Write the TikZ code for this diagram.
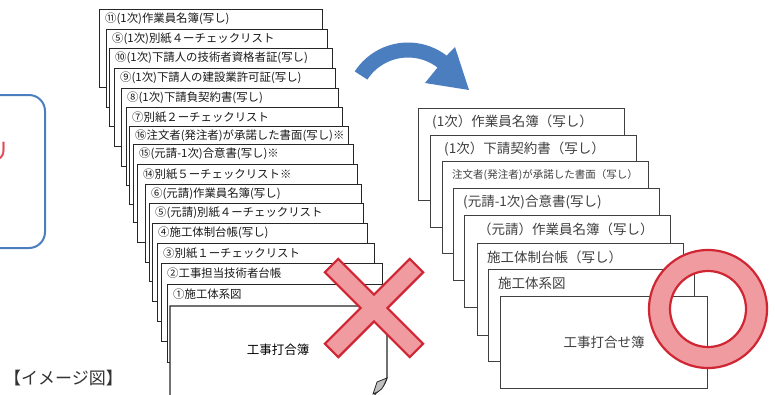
\documentclass[tikz,border=0pt]{standalone}
\usepackage{fontspec}
\setmainfont{Noto Sans CJK JP}
\usepackage{tikz}
\definecolor{crossred}{RGB}{208,38,52}
\definecolor{crosspink}{RGB}{240,155,160}
\definecolor{arrowblue}{RGB}{74,126,191}
\definecolor{textgray}{RGB}{64,64,64}
\definecolor{notered}{RGB}{226,72,82}
\tikzset{
  sheetL/.style={draw=black!85, fill=white, line width=1.2pt, inner sep=0pt},
  sheetR/.style={draw=textgray, fill=white, line width=1.2pt, inner sep=0pt},
  labelL/.style={anchor=west, inner sep=0pt, font=\fontsize{11.4}{14}\selectfont, text=black!90},
  labelR/.style={anchor=west, inner sep=0pt, font=\fontsize{13.5}{15}\selectfont, text=textgray},
  crossmark/.style={draw=crossred, fill=crosspink, line width=2.2pt, line join=miter},
}
% sheet of the old stack: name, x, y (top left), width, text
\newcommand{\drawsheetL}[5]{
  \node[sheetL, minimum width=#4, minimum height=78, anchor=north west] (#1) at (#2,#3) {};
  \node[labelL] (#1t) at ([xshift=6pt, yshift=-10pt]#1.north west) {#5};
}
% sheet of the new stack: name, x, y (top left), label style, text
\newcommand{\drawsheetR}[5]{
  \node[sheetR, minimum width=206, minimum height=92, anchor=north west] (#1) at (#2,#3) {};
  \node[labelR, #4] (#1t) at ([xshift=14pt, yshift=-14pt]#1.north west) {#5};
}

\begin{document}
\begin{tikzpicture}[x=1pt, y=-1pt]
  \useasboundingbox (0,0) rectangle (775,394);

  % left box, cut off by the page
  \draw[arrowblue, line width=2pt, rounded corners=16pt] (-60,95) rectangle (45,248);
  \node[anchor=east, inner sep=0pt, text=notered, font=\fontsize{24}{26}\selectfont] (note) at (11,152) {リ};

  % old stack
  \drawsheetL{p11}{99}{9}{223}{⑪(1次)作業員名簿(写し)}
  \drawsheetL{p05a}{106}{29}{221}{⑤(1次)別紙４ーチェックリスト}
  \drawsheetL{p10}{109}{48}{223}{⑩(1次)下請人の技術者資格者証(写し)}
  \drawsheetL{p09}{114}{68}{221}{⑨(1次)下請人の建設業許可証(写し)}
  \drawsheetL{p08}{121}{88}{217}{⑧(1次)下請負契約書(写し)}
  \drawsheetL{p07}{126}{107}{216}{⑦別紙２ーチェックリスト}
  \drawsheetL{p16}{129}{126}{219}{⑯注文者(発注者)が承諾した書面(写し)※}
  \drawsheetL{p15}{133}{144}{220}{⑮(元請-1次)合意書(写し)※}
  \drawsheetL{p14}{137}{164}{220}{⑭別紙５ーチェックリスト※}
  \drawsheetL{p06}{145}{184}{216}{⑥(元請)作業員名簿(写し)}
  \drawsheetL{p05b}{149}{203}{214}{⑤(元請)別紙４ーチェックリスト}
  \drawsheetL{p04}{152}{223}{215}{④施工体制台帳(写し)}
  \drawsheetL{p03}{157}{243}{217}{③別紙１ーチェックリスト}
  \drawsheetL{p02}{161}{263}{221}{②工事担当技術者台帳}
  \drawsheetL{p01}{167}{284}{218}{①施工体系図}
  \filldraw[sheetL] (170,400) -- (170,306) -- (387,306) -- (387,378)
    .. controls (384,386) .. (375,394) -- (375,400) -- cycle;
  \filldraw[draw=black!85, fill=black!25, line width=0.8pt]
    (387,378) -- (377,382) -- (373,394) .. controls (382,390) .. (387,378) -- cycle;
  \node[inner sep=0pt, font=\fontsize{12.5}{14}\selectfont] (oldbook) at (278,350) {工事打合簿};

  % cross
  \begin{scope}[shift={(374,308)}, rotate=45]
    \filldraw[crossmark] (9.5,9.5) -- (60,9.5) -- (60,-9.5) -- (9.5,-9.5) -- (9.5,-60)
      -- (-9.5,-60) -- (-9.5,-9.5) -- (-60,-9.5) -- (-60,9.5) -- (-9.5,9.5)
      -- (-9.5,60) -- (9.5,60) -- cycle;
  \end{scope}

  % arrow
  \coordinate (arrc) at (408,106);
  \fill[arrowblue] ([shift={(-147:63.5)}]arrc) arc[start angle=-147, end angle=-52.5, radius=63.5]
    -- (455,47) -- (469,90) -- (425,83)
    -- ([shift={(-52.5:48.5)}]arrc) arc[start angle=-52.5, end angle=-147, radius=48.5] -- cycle;

  % new stack
  \drawsheetR{q1}{418}{108}{}{(1次）作業員名簿（写し）}
  \drawsheetR{q2}{430}{135}{}{(1次）下請契約書（写し）}
  \drawsheetR{q3}{442}{161}{xshift=-4pt, font=\fontsize{10.5}{12}\selectfont}{注文者(発注者)が承諾した書面（写し）}
  \drawsheetR{q4}{453}{188}{xshift=-4pt}{(元請-1次)合意書(写し)}
  \drawsheetR{q5}{464}{215}{}{（元請）作業員名簿（写し）}
  \drawsheetR{q6}{477}{243}{xshift=-4pt}{施工体制台帳（写し）}
  \drawsheetR{q7}{488}{269}{xshift=-4pt}{施工体系図}
  \node[sheetR, minimum width=207, minimum height=92, anchor=north west] (q8) at (500,296) {};
  \node[labelR, anchor=center] (newbook) at (q8.center) {工事打合せ簿};

  % ring
  \filldraw[crossmark, even odd rule] (708,309) circle[radius=59] (708,309) circle[radius=38];

  \node[anchor=west, inner sep=0pt, text=black!80, font=\fontsize{17}{19}\selectfont] (caption) at (4,378) {【イメージ図】};
\end{tikzpicture}
\end{document}
